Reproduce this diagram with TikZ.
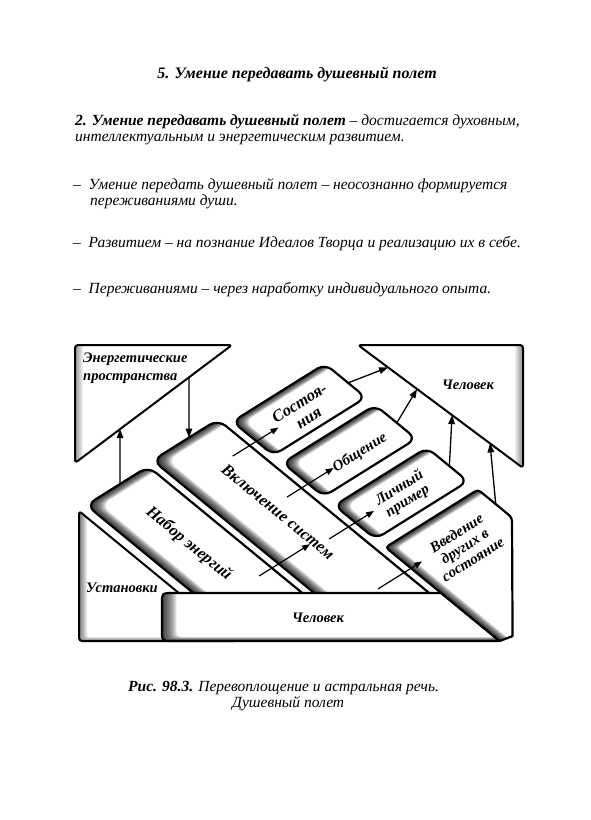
\documentclass[tikz,border=0pt]{standalone}
\usepackage{fontspec}
\setmainfont{Liberation Serif}
\usetikzlibrary{arrows.meta,calc}

\tikzset{
  body/.style={font=\fontsize{15.5}{18}\selectfont\itshape, anchor=base west, inner sep=0pt},
  hlbl/.style={font=\fontsize{14.5}{16}\selectfont\bfseries\itshape, inner sep=0pt},
  rlbl/.style={font=\fontsize{16.5}{18}\selectfont\bfseries\itshape, inner sep=0pt},
  blbl/.style={font=\fontsize{15}{15.5}\selectfont\bfseries\itshape, align=center, inner sep=0pt},
  arr/.style={-{Triangle[length=9pt,width=6.5pt]}, line width=1.3pt},
  sarr/.style={-{Triangle[length=8pt,width=6pt]}, line width=1.2pt},
}

% #1 path, #2 big region, #3 xstep, #4 ystep, #5 opacity, #6 line width
\newcommand\myshape[6]{%
  \fill[white] #1;
  \begin{scope}
    \clip #1;
    \foreach \k in {1,...,8}{%
      \begin{scope}[xshift=\k*#3, yshift=\k*#4]
        \fill[black, fill opacity=#5, even odd rule] #2 #1;
      \end{scope}}
  \end{scope}
  \draw[line width=#6, line join=round] #1;
}

% pixel-frame shapes
\newcommand\pEn{[rounded corners=3pt] (75,345) -- (232,345) -- (75,463) -- cycle}
\newcommand\pCh{[rounded corners=3pt] (358,345) -- (523,345) -- (523,468) -- cycle}
\newcommand\pUs{[rounded corners=3pt] (79,511) -- (237.2,641) -- (79,641) -- cycle}
\newcommand\pBar{(441.2,593) -- (172,593) .. controls (162,593) .. (162,603) -- (162,631) .. controls (162,641) .. (172,641) -- (499.7,641) -- cycle}
% big region in canvas units (valid in any frame)
\newcommand\bigR{(-60pt,60pt) rectangle (660pt,-880pt)}
% oblique-frame shapes
\newcommand\pNab{[rounded corners=10pt] (500,-354) -- (500,-281) -- (734,-281) -- (673,-354) -- cycle}
\newcommand\pVk{[rounded corners=10pt] (497,-273) -- (497,-196) -- (805,-196) -- (740.6,-273) -- cycle}
\newcommand\pSo{[rounded corners=9pt] (507,-188) -- (507,-79) -- (560,-79) -- (560,-188) -- cycle}
\newcommand\pOb{[rounded corners=9pt] (572,-188) -- (572,-79) -- (625,-79) -- (625,-188) -- cycle}
\newcommand\pLi{[rounded corners=9pt] (639,-188) -- (639,-79) -- (692,-79) -- (692,-188) -- cycle}
\newcommand\pVv{(705,-180) -- (705,-87) .. controls (705,-79) .. (713,-79) -- (741,-79) .. controls (749,-79) .. (756.2,-85.5) -- (855.4,-175.3) -- (852.6,-188) -- (713,-188) .. controls (705,-188) .. (705,-180) -- cycle}

\begin{document}
\begin{tikzpicture}[x=1pt, y=-1pt]
\useasboundingbox (0,0) rectangle (591,820);
\fill[white] (0,0) rectangle (591,820);

% ---------- text ----------
\node[font=\fontsize{16}{18}\selectfont\bfseries\itshape, anchor=base, inner sep=0pt] (title) at (297,78) {5. Умение передавать душевный полет};
\node[body] (l1) at (75,125) {\textbf{2. Умение передавать душевный полет} – достигается духовным,};
\node[body] (l2) at (75,141) {интеллектуальным и энергетическим развитием.};
\node[body] (l3) at (73,189) {–\ \ Умение передать душевный полет – неосознанно формируется};
\node[body] (l4) at (90,205) {переживаниями души.};
\node[body] (l5) at (73,247) {–\ \ Развитием – на познание Идеалов Творца и реализацию их в себе.};
\node[body] (l6) at (73,293) {–\ \ Переживаниями – через наработку индивидуального опыта.};
\node[body] (c1) at (128,691) {\textbf{Рис. 98.3.} Перевоплощение и астральная речь.};
\node[body] (c2) at (232,707) {Душевный полет};

% ---------- pixel-frame shapes ----------
\myshape{\pEn}{\bigR}{1pt}{0pt}{0.06}{2pt}
\myshape{\pCh}{\bigR}{-1pt}{0pt}{0.06}{2pt}
\myshape{\pUs}{\bigR}{1pt}{0.5pt}{0.08}{2pt}

\coordinate (E2) at (232,345);
\coordinate (E3) at (75,463);
\coordinate (H1) at (358,345);
\coordinate (H3) at (523,468);

\node[hlbl, anchor=base west] (en1) at (83,362) {Энергетические};
\node[hlbl, anchor=base west] (en2) at (83,380) {пространства};
\node[hlbl] (ch1) at (468,385) {Человек};
\node[hlbl] (us) at (122,588) {Установки};

% ---------- oblique-frame shapes ----------
\begin{scope}[x={(0.773pt,-0.635pt)}, y={(0.848pt,0.530pt)}]
  \myshape{\pNab}{\bigR}{1.8pt}{0pt}{0.16}{2.2pt}
  \myshape{\pVk}{\bigR}{1.8pt}{0pt}{0.16}{2.2pt}
  \myshape{\pSo}{\bigR}{1.5pt}{0pt}{0.16}{2.2pt}
  \myshape{\pOb}{\bigR}{1.5pt}{0pt}{0.16}{2.2pt}
  \myshape{\pLi}{\bigR}{1.5pt}{0pt}{0.16}{2.2pt}
  \coordinate (nTop) at (500,-314.3);
  \coordinate (vTop) at (497,-230.2);
  \coordinate (sTop) at (537,-79);
  \coordinate (oTop) at (600,-79);
  \coordinate (lTop) at (668,-79);
  \coordinate (wTop) at (728,-79);
  \coordinate (a1s) at (538,-216); \coordinate (a1e) at (538,-162);
  \coordinate (a2s) at (605,-213); \coordinate (a2e) at (605,-158);
  \coordinate (a3s) at (666,-219); \coordinate (a3e) at (666,-166);
  \coordinate (a4s) at (738,-227); \coordinate (a4e) at (738,-175);
  \coordinate (a5s) at (660,-296); \coordinate (a5e) at (660,-236);
  \node[rlbl, rotate=-39.4] (nab) at (592,-317) {Набор энергий};
  \node[rlbl, rotate=-39.4] (vkl) at (613,-231) {Включение систем};
  \node[blbl, font=\fontsize{16.5}{17.5}\selectfont\bfseries\itshape, rotate=32] (sos) at (537,-131) {Состоя-\\ния};
  \node[blbl, rotate=32] (obs) at (606,-128) {Общение};
  \node[blbl, rotate=32] (lic) at (668,-133) {Личный\\пример};
\end{scope}

% bar in front of the strips
\myshape{\pBar}{\bigR}{1.8pt}{0.5pt}{0.14}{2.2pt}
\node[hlbl] (ch2) at (318,618) {Человек};

\begin{scope}[x={(0.773pt,-0.635pt)}, y={(0.848pt,0.530pt)}]
  \myshape{\pVv}{\bigR}{1.5pt}{0pt}{0.16}{2.2pt}
  \node[blbl, rotate=32] (vve) at (748,-134) {Введение\\других в\\состояние};
\end{scope}

% ---------- arrows ----------
\draw[arr] (nTop) -- ($(E2)!0.713!(E3)$);
\draw[arr] ($(E2)!0.274!(E3)$) -- (vTop);
\draw[arr] (sTop) -- ($(H1)!0.182!(H3)$);
\draw[arr] (oTop) -- ($(H1)!0.358!(H3)$);
\draw[arr] (lTop) -- ($(H1)!0.57!(H3)$);
\draw[arr] (wTop) -- ($(H1)!0.80!(H3)$);
\draw[sarr] (a1s) -- (a1e);
\draw[sarr] (a2s) -- (a2e);
\draw[sarr] (a3s) -- (a3e);
\draw[sarr] (a4s) -- (a4e);
\draw[sarr] (a5s) -- (a5e);
\end{tikzpicture}
\end{document}
